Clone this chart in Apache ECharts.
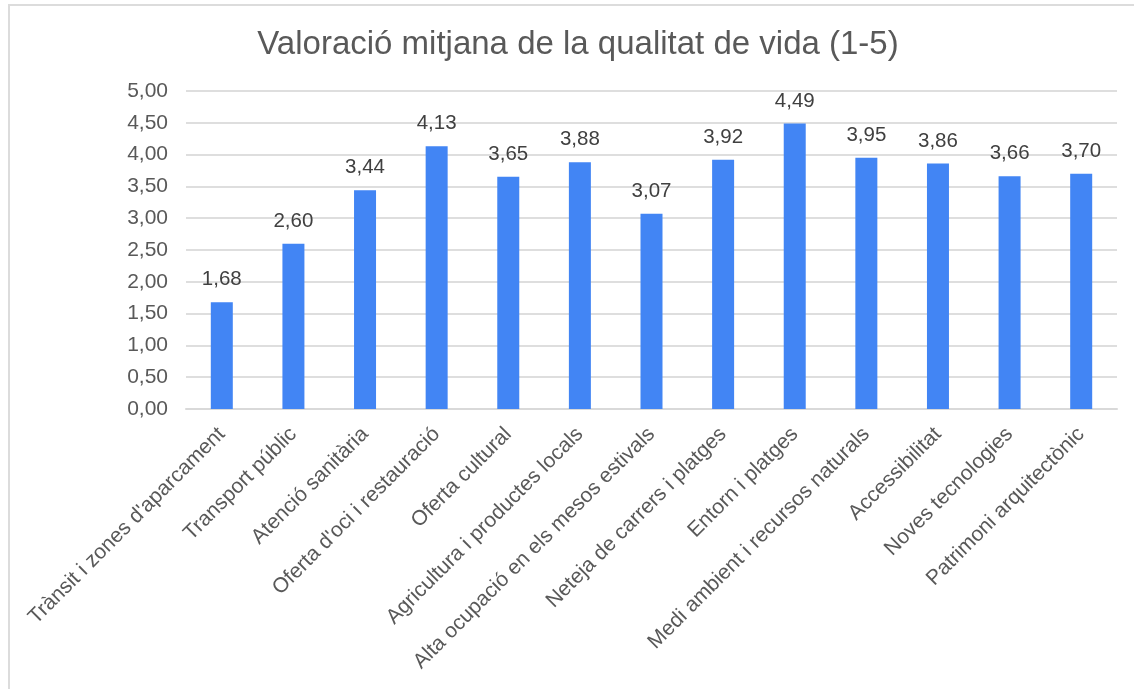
<!DOCTYPE html>
<html>
<head>
<meta charset="utf-8">
<title>Valoració mitjana de la qualitat de vida</title>
<script src="https://cdn.jsdelivr.net/npm/echarts@6/dist/echarts.min.js"></script>
<style>
  html, body { margin: 0; padding: 0; background: #fff; }
  #chart { width: 1134px; height: 689px; }
</style>
</head>
<body>
<div id="chart"></div>
<script>
// dades
var categories = [
  "Trànsit i zones d'aparcament",
  'Transport públic',
  'Atenció sanitària',
  "Oferta d'oci i restauració",
  'Oferta cultural',
  'Agricultura i productes locals',
  'Alta ocupació en els mesos estivals',
  'Neteja de carrers i platges',
  'Entorn i platges',
  'Medi ambient i recursos naturals',
  'Accessibilitat',
  'Noves tecnologies',
  'Patrimoni arquitectònic'
];
var valors = [1.68, 2.60, 3.44, 4.13, 3.65, 3.88, 3.07, 3.92, 4.49, 3.95, 3.86, 3.66, 3.70];
var yTicks = [0, 0.5, 1, 1.5, 2, 2.5, 3, 3.5, 4, 4.5, 5];

var fmt = function (v) { return Number(v).toFixed(2).replace('.', ','); };
var font = 'Liberation Sans, Arial, Helvetica, sans-serif';

var myChart = echarts.init(document.getElementById('chart'));
var option = {
  backgroundColor: '#fff',
  textStyle: { fontFamily: font },
  graphic: [{
    type: 'rect',
    silent: true,
    shape: { x: 9, y: 5, width: 1300, height: 900 },
    style: { fill: 'none', stroke: '#dcdcdc', lineWidth: 2 }
  }],
  title: {
    text: 'Valoració mitjana de la qualitat de vida (1-5)',
    left: 573,
    textAlign: 'center',
    top: 23,
    textStyle: { fontSize: 33, fontWeight: 'normal', color: '#595959', fontFamily: font }
  },
  grid: { left: 186, right: 17, top: 91, bottom: 280 },
  xAxis: {
    type: 'category',
    data: categories,
    axisTick: { show: false },
    axisLine: { lineStyle: { color: '#d9d9d9', width: 2 } },
    axisLabel: { interval: 0, rotate: 45, margin: 22, fontSize: 21, color: '#595959', fontFamily: font }
  },
  yAxis: {
    type: 'value',
    min: yTicks[0],
    max: yTicks[yTicks.length - 1],
    interval: 0.5,
    axisLine: { show: false },
    axisTick: { show: false },
    splitLine: { lineStyle: { color: '#dedede', width: 2 } },
    axisLabel: { margin: 18, fontSize: 21, color: '#595959', fontFamily: font, formatter: fmt }
  },
  series: [{
    type: 'bar',
    data: valors,
    barWidth: 22,
    itemStyle: { color: '#4285F4' },
    label: {
      show: true,
      position: 'top',
      distance: 12,
      fontSize: 20.5,
      color: '#404040',
      fontFamily: font,
      formatter: function (p) { return fmt(p.value); }
    }
  }]
};
myChart.setOption(option);
window.addEventListener('resize', function () { myChart.resize(); });
</script>
</body>
</html>
